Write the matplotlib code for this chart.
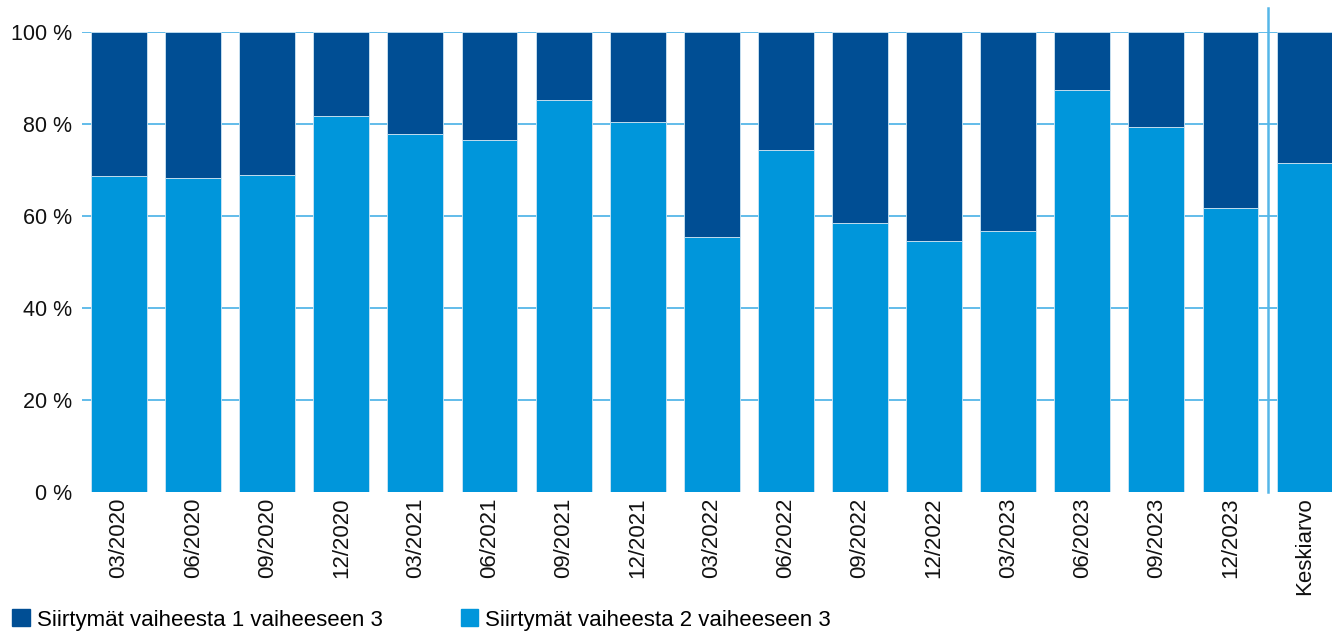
import matplotlib
matplotlib.use("Agg")
import matplotlib.pyplot as plt
from matplotlib.patches import Patch

categories = ["03/2020", "06/2020", "09/2020", "12/2020", "03/2021", "06/2021",
              "09/2021", "12/2021", "03/2022", "06/2022", "09/2022", "12/2022",
              "03/2023", "06/2023", "09/2023", "12/2023", "Keskiarvo"]
phase2_to_3 = [68.7, 68.3, 68.9, 81.7, 77.8, 76.5, 85.2, 80.4, 55.4, 74.3,
               58.5, 54.6, 56.7, 87.4, 79.3, 61.7, 71.5]
phase1_to_3 = [100 - v for v in phase2_to_3]
series_names = ["Siirtymät vaiheesta 1 vaiheeseen 3", "Siirtymät vaiheesta 2 vaiheeseen 3"]
yticks = [0, 20, 40, 60, 80, 100]

DARK = "#004E94"
LIGHT = "#0096DB"
GRID = "#55B6E8"

plt.rcParams['font.family'] = ['Liberation Sans', 'DejaVu Sans']

fig = plt.figure(figsize=(13.32, 6.31), dpi=100)
W, H = 1332, 631
ax = fig.add_axes([82 / W, (H - 492) / H, 1 - 82 / W, 460 / H])

x = list(range(len(categories)))
ax.bar(x, phase2_to_3, width=0.755, color=LIGHT, edgecolor="#CFE6F5", linewidth=0.6, zorder=3)
ax.bar(x, phase1_to_3, bottom=phase2_to_3, width=0.755, color=DARK, edgecolor="#CFE6F5",
       linewidth=0.6, zorder=3)

ax.set_ylim(0, 100)
ax.set_xlim(-0.5, 16.37)
ax.set_yticks(yticks)
ax.set_yticklabels([f"{t} %" for t in yticks], fontsize=15.5, color="#111111")
ax.set_xticks(x)
ax.set_xticklabels(categories, rotation=90, fontsize=16, color="#111111")
ax.tick_params(axis='y', length=0, pad=7)
ax.tick_params(axis='x', length=0, pad=4)
for t in yticks[1:]:
    ax.axhline(t, color=GRID, linewidth=1.3, zorder=1)
for s in ax.spines.values():
    s.set_visible(False)

# separator before average
ax.plot([15.5, 15.5], [0, (492 - 8) / 4.6], color=GRID, linewidth=1.8, clip_on=False, zorder=4)

handles = [Patch(facecolor=DARK, edgecolor=DARK), Patch(facecolor=LIGHT, edgecolor=LIGHT)]
fig.legend(handles, series_names, loc="center left", bbox_to_anchor=(12 / W, (H - 620) / H),
           ncol=2, frameon=False, fontsize=16, handlelength=0.8, handleheight=0.8,
           handletextpad=0.32, columnspacing=3.5, borderaxespad=0, borderpad=0)

fig.savefig("out.png", dpi=100)
